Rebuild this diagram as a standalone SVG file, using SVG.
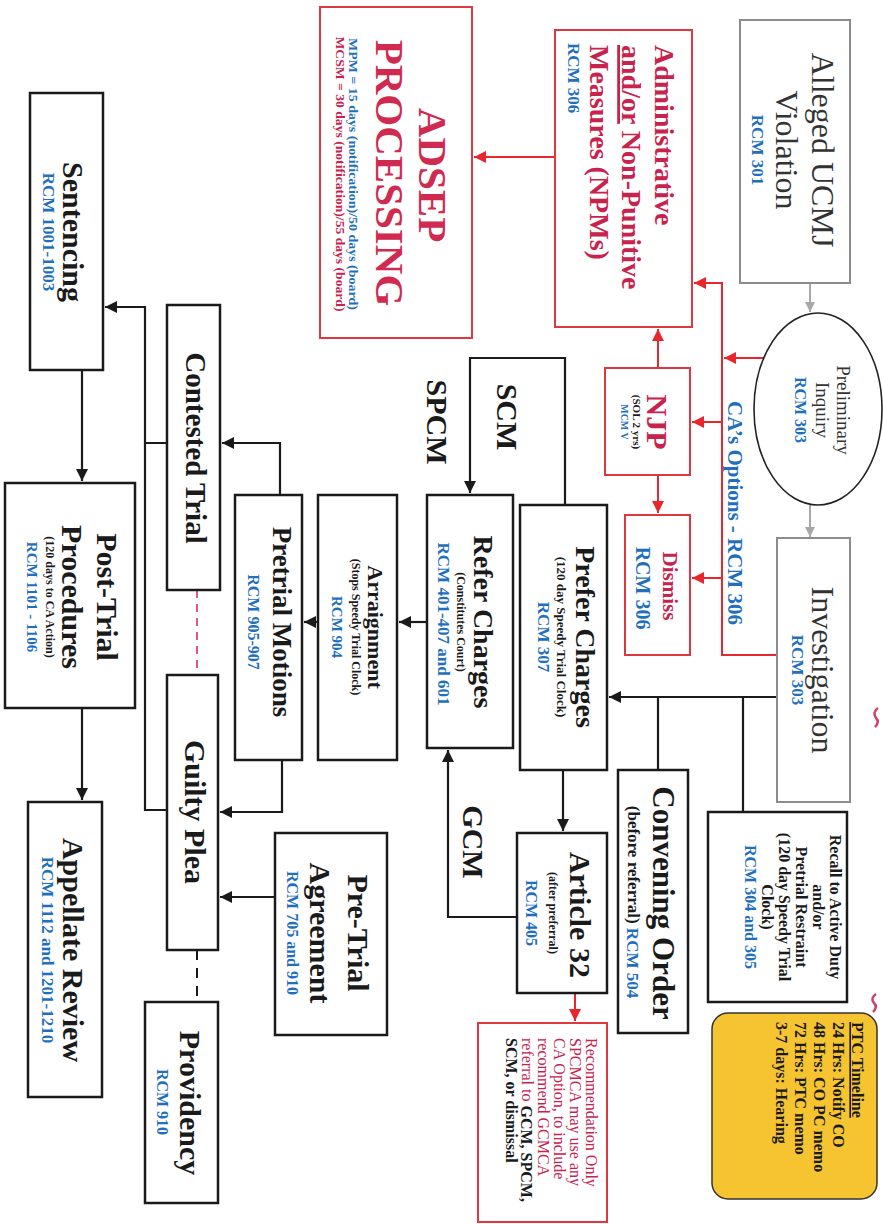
<svg xmlns="http://www.w3.org/2000/svg" width="883" height="1224" viewBox="0 0 883 1224">
<defs>
<style>
.t{font-family:"Liberation Serif","Times New Roman",serif;dominant-baseline:central;text-anchor:middle;fill:#1a1a1a}
.a{dominant-baseline:auto}
.s{text-anchor:start}
.b{font-weight:bold}
.g{fill:#333}
.blue{fill:#1f6fbf;font-weight:bold}
.crim{fill:#c8234d;font-weight:bold}
.box{fill:#fff;stroke:#1a1a1a;stroke-width:2.5}
.rbox{fill:#fff;stroke:#e0363f;stroke-width:2}
.gbox{fill:#fff;stroke:#8c8c8c;stroke-width:2}
.ln{fill:none;stroke:#1a1a1a;stroke-width:2.2}
.rln{fill:none;stroke:#e8262d;stroke-width:2}
.gln{fill:none;stroke:#a8a8a8;stroke-width:2}
</style>
<marker id="ak" viewBox="0 0 10 10" refX="10" refY="5" markerWidth="13" markerHeight="12" markerUnits="userSpaceOnUse" orient="auto"><path d="M0,0 L10,5 L0,10 z" fill="#1a1a1a"/></marker>
<marker id="ar" viewBox="0 0 10 10" refX="10" refY="5" markerWidth="13" markerHeight="12" markerUnits="userSpaceOnUse" orient="auto"><path d="M0,0 L10,5 L0,10 z" fill="#e8262d"/></marker>
<marker id="ag" viewBox="0 0 10 10" refX="10" refY="5" markerWidth="11" markerHeight="10" markerUnits="userSpaceOnUse" orient="auto"><path d="M0,0 L10,5 L0,10 z" fill="#a8a8a8"/></marker>
</defs>
<rect width="883" height="1224" fill="#fff"/>

<g id="connectors">
<path class="gln" d="M810,283 V312" marker-end="url(#ag)"/>
<path class="gln" d="M810,505 V537" marker-end="url(#ag)"/>
<path class="rln" d="M777,655 H722 V283 H694" marker-end="url(#ar)"/>
<path class="rln" d="M764,358 H724" marker-end="url(#ar)"/>
<path class="rln" d="M722,422 H692" marker-end="url(#ar)"/>
<path class="rln" d="M722,578 H692" marker-end="url(#ar)"/>
<path class="rln" d="M658,368 V329" marker-end="url(#ar)"/>
<path class="rln" d="M658,475 V513" marker-end="url(#ar)"/>
<path class="rln" d="M555,157 H474" marker-end="url(#ar)"/>
<path class="rln" d="M575,993 V1021" marker-end="url(#ar)"/>
<path class="ln" d="M777,697 H609" marker-end="url(#ak)"/>
<path class="ln" d="M743,697 V812"/>
<path class="ln" d="M658,697 V770"/>
<path class="ln" d="M565,505 V358 H470 V493" marker-end="url(#ak)"/>
<path class="ln" d="M427,622 H399" marker-end="url(#ak)"/>
<path class="ln" d="M318,622 H304" marker-end="url(#ak)"/>
<path class="ln" d="M280,495 V443 H222" marker-end="url(#ak)"/>
<path class="ln" d="M563,770 V831" marker-end="url(#ak)"/>
<path class="ln" d="M517,917 H448 V750" marker-end="url(#ak)"/>
<path class="ln" d="M167,443 H145 V307 H105" marker-end="url(#ak)"/>
<path class="ln" d="M167,810 H145 V443"/>
<path class="ln" d="M282,760 V812 H220" marker-end="url(#ak)"/>
<path class="ln" d="M275,897 H220" marker-end="url(#ak)"/>
<path class="ln" d="M82,370 V481" marker-end="url(#ak)"/>
<path class="ln" d="M82,708 V800" marker-end="url(#ak)"/>
<path d="M197,590 V675" fill="none" stroke="#e0457a" stroke-width="1.8" stroke-dasharray="8,6"/>
<path d="M197,950 V1002" fill="none" stroke="#1a1a1a" stroke-width="2" stroke-dasharray="10,8"/>
</g>

<g id="alleged">
<rect class="gbox" x="740" y="20" width="110" height="263"/>
<text class="t g" transform="translate(823,150) rotate(90)" font-size="32">Alleged UCMJ</text>
<text class="t g" transform="translate(787,150) rotate(90)" font-size="32">Violation</text>
<text class="t blue" transform="translate(757,150) rotate(90)" font-size="17">RCM 301</text>
</g>

<g id="admin">
<rect class="rbox" x="555" y="30" width="137" height="297"/>
<text class="t s crim" transform="translate(664,45) rotate(90)" font-size="28">Administrative</text>
<text class="t a s crim" transform="translate(622,45) rotate(90)" font-size="28"><tspan text-decoration="underline">and/or</tspan> Non-Punitive</text>
<text class="t s crim" transform="translate(599,45) rotate(90)" font-size="28">Measures (NPMs)</text>
<text class="t s blue" transform="translate(573,43) rotate(90)" font-size="17">RCM 306</text>
</g>

<g id="adsep">
<rect class="rbox" x="320" y="7" width="152" height="331"/>
<text class="t b" style="fill:#d02a50" transform="translate(433,175) rotate(90)" font-size="41">ADSEP</text>
<text class="t b" style="fill:#d02a50" transform="translate(390,173) rotate(90)" font-size="41">PROCESSING</text>
<text class="t blue" transform="translate(353,174) rotate(90)" font-size="12" textLength="272" lengthAdjust="spacingAndGlyphs">MPM = 15 days (notification)/50 days (board)</text>
<text class="t crim" transform="translate(340,174) rotate(90)" font-size="12" textLength="275" lengthAdjust="spacingAndGlyphs">MCSM = 30 days (notification)/55 days (board)</text>
</g>

<g id="preliminary">
<ellipse cx="818" cy="409" rx="64" ry="96" fill="#fff" stroke="#222" stroke-width="1.6"/>
<text class="t g" transform="translate(843,410) rotate(90)" font-size="19">Preliminary</text>
<text class="t g" transform="translate(822,410) rotate(90)" font-size="19">Inquiry</text>
<text class="t blue" transform="translate(800,410) rotate(90)" font-size="16">RCM 303</text>
</g>

<g id="investigation">
<rect class="gbox" x="777" y="538" width="73" height="264"/>
<text class="t g" transform="translate(823,670) rotate(90)" font-size="32">Investigation</text>
<text class="t blue" transform="translate(797,670) rotate(90)" font-size="17">RCM 303</text>
</g>

<g id="ca-options">
<text class="t blue" transform="translate(735,513) rotate(90)" font-size="21">CA’s Options - RCM 306</text>
</g>

<g id="njp">
<rect class="rbox" x="605" y="368" width="85" height="107"/>
<text class="t crim" transform="translate(657,422) rotate(90)" font-size="30">NJP</text>
<text class="t b" transform="translate(637,422) rotate(90)" font-size="11">(SOL 2 yrs)</text>
<text class="t blue" transform="translate(624,422) rotate(90)" font-size="10">MCM V</text>
</g>

<g id="dismiss">
<rect class="rbox" x="625" y="515" width="65" height="140"/>
<text class="t crim" transform="translate(670,586) rotate(90)" font-size="21">Dismiss</text>
<text class="t blue" transform="translate(643,588) rotate(90)" font-size="20">RCM 306</text>
</g>

<g id="recall">
<rect class="box" x="708" y="812" width="139" height="190"/>
<text class="t b" transform="translate(835,907) rotate(90)" font-size="16">Recall to Active Duty</text>
<text class="t b" transform="translate(818,907) rotate(90)" font-size="16">and/or</text>
<text class="t b" transform="translate(801,907) rotate(90)" font-size="16">Pretrial Restraint</text>
<text class="t b" transform="translate(784,907) rotate(90)" font-size="16">(120 day Speedy Trial</text>
<text class="t b" transform="translate(767,907) rotate(90)" font-size="16">Clock)</text>
<text class="t blue" transform="translate(750,907) rotate(90)" font-size="16">RCM 304 and 305</text>
</g>

<g id="ptc">
<rect x="712" y="1013" width="165" height="186" rx="16" fill="#f5c430" stroke="#333" stroke-width="1.5"/>
<text class="t a s b" transform="translate(852,1022) rotate(90)" font-size="16"><tspan text-decoration="underline">PTC Timeline</tspan></text>
<text class="t s b" transform="translate(838,1022) rotate(90)" font-size="16">24 Hrs: Notify CO</text>
<text class="t s b" transform="translate(819,1022) rotate(90)" font-size="16">48 Hrs: CO PC memo</text>
<text class="t s b" transform="translate(800,1022) rotate(90)" font-size="16">72 Hrs: PTC memo</text>
<text class="t s b" transform="translate(781,1022) rotate(90)" font-size="16">3-7 days: Hearing</text>
</g>

<g id="convening">
<rect class="box" x="618" y="770" width="70" height="263"/>
<text class="t b" transform="translate(663,903) rotate(90)" font-size="31">Convening Order</text>
<text class="t b" transform="translate(633,902) rotate(90)" font-size="17">(before referral) <tspan class="blue">RCM 504</tspan></text>
</g>

<g id="prefer">
<rect class="box" x="520" y="505" width="87" height="265"/>
<text class="t b" transform="translate(585,637) rotate(90)" font-size="28">Prefer Charges</text>
<text class="t b" transform="translate(561,637) rotate(90)" font-size="13">(120 day Speedy Trial Clock)</text>
<text class="t blue" transform="translate(543,637) rotate(90)" font-size="17">RCM 307</text>
</g>

<g id="article32">
<rect class="box" x="517" y="833" width="90" height="160"/>
<text class="t b" transform="translate(580,915) rotate(90)" font-size="30">Article 32</text>
<text class="t b" transform="translate(553,913) rotate(90)" font-size="12">(after preferral)</text>
<text class="t blue" transform="translate(531,913) rotate(90)" font-size="16">RCM 405</text>
</g>

<g id="recommendation">
<rect class="rbox" x="478" y="1023" width="129" height="199"/>
<text class="t s" style="fill:#c8234d" transform="translate(591,1038) rotate(90)" font-size="16">Recommendation Only</text>
<text class="t s" style="fill:#c8234d" transform="translate(575,1038) rotate(90)" font-size="16">SPCMCA may use any</text>
<text class="t s" style="fill:#c8234d" transform="translate(559,1038) rotate(90)" font-size="16">CA Option, to include</text>
<text class="t s" style="fill:#c8234d" transform="translate(543,1038) rotate(90)" font-size="16">recommend GCMCA</text>
<text class="t s" style="fill:#c8234d" transform="translate(527,1038) rotate(90)" font-size="16">referral to <tspan style="fill:#1a1a1a;font-weight:bold">GCM, SPCM,</tspan></text>
<text class="t s b" transform="translate(511,1038) rotate(90)" font-size="16">SCM, or dismissal</text>
</g>

<g id="labels">
<text class="t b" transform="translate(507,417) rotate(90)" font-size="30">SCM</text>
<text class="t b" transform="translate(437,422) rotate(90)" font-size="30">SPCM</text>
<text class="t b" transform="translate(473,842) rotate(90)" font-size="30">GCM</text>
</g>

<g id="refer">
<rect class="box" x="427" y="495" width="86" height="253"/>
<text class="t b" transform="translate(483,622) rotate(90)" font-size="28">Refer Charges</text>
<text class="t b" transform="translate(461,622) rotate(90)" font-size="12">(Constitutes Court)</text>
<text class="t blue" transform="translate(443,624) rotate(90)" font-size="17">RCM 401-407 and 601</text>
</g>

<g id="arraignment">
<rect class="box" x="318" y="495" width="79" height="265"/>
<text class="t b" transform="translate(375,627) rotate(90)" font-size="22">Arraignment</text>
<text class="t b" transform="translate(356,627) rotate(90)" font-size="12">(Stops Speedy Trial Clock)</text>
<text class="t blue" transform="translate(337,627) rotate(90)" font-size="15">RCM 904</text>
</g>

<g id="pretrial-motions">
<rect class="box" x="235" y="495" width="67" height="265"/>
<text class="t b" transform="translate(282,622) rotate(90)" font-size="27">Pretrial Motions</text>
<text class="t blue" transform="translate(253,622) rotate(90)" font-size="16">RCM 905-907</text>
</g>

<g id="contested">
<rect class="box" x="167" y="305" width="53" height="285"/>
<text class="t b" transform="translate(196,448) rotate(90)" font-size="29">Contested Trial</text>
</g>

<g id="guilty">
<rect class="box" x="167" y="675" width="51" height="275"/>
<text class="t b" transform="translate(195,812) rotate(90)" font-size="30">Guilty Plea</text>
</g>

<g id="pretrial-agreement">
<rect class="box" x="275" y="833" width="112" height="202"/>
<text class="t b" transform="translate(358,933) rotate(90)" font-size="30">Pre-Trial</text>
<text class="t b" transform="translate(320,933) rotate(90)" font-size="30">Agreement</text>
<text class="t blue" transform="translate(292,933) rotate(90)" font-size="16">RCM 705 and 910</text>
</g>

<g id="providency">
<rect class="box" x="145" y="1002" width="73" height="201"/>
<text class="t b" transform="translate(190,1103) rotate(90)" font-size="30">Providency</text>
<text class="t blue" transform="translate(162,1102) rotate(90)" font-size="16">RCM 910</text>
</g>

<g id="sentencing">
<rect class="box" x="30" y="93" width="73" height="277"/>
<text class="t b" transform="translate(73,232) rotate(90)" font-size="30">Sentencing</text>
<text class="t blue" transform="translate(48,232) rotate(90)" font-size="17">RCM 1001-1003</text>
</g>

<g id="post-trial">
<rect class="box" x="5" y="483" width="130" height="225"/>
<text class="t b" transform="translate(107,597) rotate(90)" font-size="30">Post-Trial</text>
<text class="t b" transform="translate(72,597) rotate(90)" font-size="30">Procedures</text>
<text class="t b" transform="translate(50,597) rotate(90)" font-size="12">(120 days to CA Action)</text>
<text class="t blue" transform="translate(32,597) rotate(90)" font-size="15">RCM 1101 - 1106</text>
</g>

<g id="appellate">
<rect class="box" x="28" y="802" width="74" height="295"/>
<text class="t b" transform="translate(73,950) rotate(90)" font-size="30">Appellate Review</text>
<text class="t blue" transform="translate(47,950) rotate(90)" font-size="17">RCM 1112 and 1201-1210</text>
</g>

<g id="marks">
<path d="M878,708 q-6,4 -2,10 q4,4 -1,9" fill="none" stroke="#d0406a" stroke-width="2.5"/>
<path d="M876,994 q-6,4 -2,9 q4,4 -1,9" fill="none" stroke="#d0406a" stroke-width="2.5"/>
</g>
</svg>
